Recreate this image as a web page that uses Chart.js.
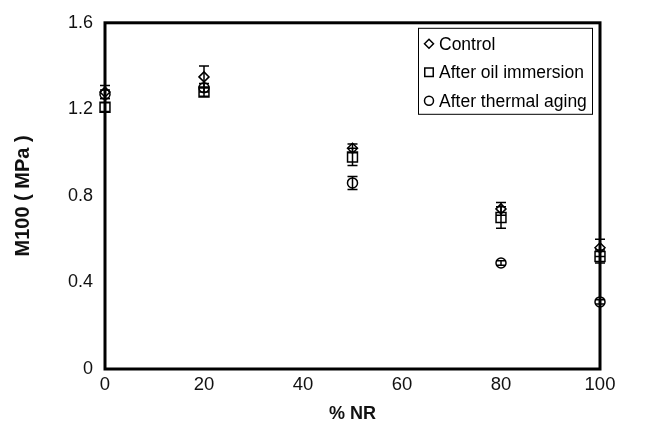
<!DOCTYPE html>
<html>
<head>
<meta charset="utf-8">
<script src="https://cdn.jsdelivr.net/npm/chart.js@4.4.1/dist/chart.umd.min.js"></script>
<style>
  html, body { margin: 0; padding: 0; background: #fff; }
  #wrap { width: 647px; height: 437px; }
</style>
</head>
<body>
<div id="wrap"><canvas id="c" width="647" height="437"></canvas></div>
<script>
// % NR content of each blend
const nrContent = [0, 20, 50, 80, 100];

// M100 modulus (MPa) and standard deviations
const controlM100 = [1.28, 1.35, 1.02, 0.74, 0.56];
const controlErr  = [0.03, 0.05, 0.02, 0.03, 0.04];
const oilM100     = [1.21, 1.28, 0.98, 0.70, 0.52];
const oilErr      = [0.02, 0.02, 0.04, 0.05, 0.03];
const thermalM100 = [1.27, 1.30, 0.86, 0.49, 0.31];
const thermalErr  = [0.02, 0.02, 0.03, 0.01, 0.01];

const xTicks = [0, 20, 40, 60, 80, 100];
const yTicks = [0, 0.4, 0.8, 1.2, 1.6];

const seriesLabels = ['Control', 'After oil immersion', 'After thermal aging'];
const seriesStyles = ['rectRot', 'rect', 'circle'];
const markerRadius = { rectRot: 5, rect: 7, circle: 5 };

const FONT = '"Liberation Sans", Arial, sans-serif';

function points(vals, errs) {
  return nrContent.map((x, i) => ({ x: x, y: vals[i], err: errs[i] }));
}

// Vertical error bars with caps, drawn through the chart's scales
const errorBars = {
  id: 'errorBars',
  afterDatasetsDraw(chart) {
    const { ctx, scales: { x, y } } = chart;
    ctx.save();
    ctx.strokeStyle = '#000';
    ctx.lineWidth = 1.5;
    chart.data.datasets.forEach(ds => {
      ds.data.forEach(p => {
        const px = x.getPixelForValue(p.x);
        const top = y.getPixelForValue(p.y + p.err);
        const bot = y.getPixelForValue(p.y - p.err);
        ctx.beginPath();
        ctx.moveTo(px, top); ctx.lineTo(px, bot);
        ctx.moveTo(px - 5, top); ctx.lineTo(px + 5, top);
        ctx.moveTo(px - 5, bot); ctx.lineTo(px + 5, bot);
        ctx.stroke();
      });
    });
    ctx.restore();
  }
};

// Frame around the plot area
const frame = {
  id: 'frame',
  afterDraw(chart) {
    const { ctx, chartArea: a } = chart;
    ctx.save();
    ctx.strokeStyle = '#000';
    ctx.lineWidth = 3;
    ctx.strokeRect(a.left, a.top, a.right - a.left, a.bottom - a.top);
    ctx.restore();
  }
};

// Boxed legend in the upper right corner of the plot
const boxLegend = {
  id: 'boxLegend',
  afterDraw(chart) {
    const { ctx, chartArea: a } = chart;
    const left = a.right - 182, top = a.top + 5, w = 174, h = 86;
    ctx.save();
    ctx.fillStyle = '#fff';
    ctx.fillRect(left, top, w, h);
    ctx.strokeStyle = '#000';
    ctx.lineWidth = 1;
    ctx.strokeRect(left + 0.5, top + 0.5, w, h);
    ctx.font = '17.5px ' + FONT;
    ctx.textBaseline = 'middle';
    chart.data.datasets.forEach((ds, i) => {
      const cy = top + 16 + i * 28.5;
      ctx.fillStyle = '#fff';
      ctx.strokeStyle = '#000';
      ctx.lineWidth = 1.5;
      Chart.helpers.drawPoint(ctx, {
        pointStyle: ds.pointStyle,
        radius: ds.pointStyle === 'rect' ? 6 : 4.5,
        borderWidth: 1.5
      }, left + 11, cy);
      ctx.fillStyle = '#000';
      ctx.fillText(ds.label, left + 21, cy + 1);
    });
    ctx.restore();
  }
};

const makeSet = (i, vals, errs) => ({
  label: seriesLabels[i],
  data: points(vals, errs),
  pointStyle: seriesStyles[i],
  pointRadius: markerRadius[seriesStyles[i]],
  pointBackgroundColor: 'rgba(255,255,255,0)',
  pointBorderColor: '#000',
  pointBorderWidth: 1.5,
  showLine: false,
  clip: false
});

new Chart(document.getElementById('c'), {
  type: 'scatter',
  data: {
    datasets: [
      makeSet(0, controlM100, controlErr),
      makeSet(1, oilM100, oilErr),
      makeSet(2, thermalM100, thermalErr)
    ]
  },
  options: {
    responsive: false,
    animation: false,
    events: [],
    layout: { padding: { left: 0, top: 19, right: 47, bottom: 0 } },
    plugins: { legend: { display: false }, tooltip: { enabled: false } },
    scales: {
      x: {
        type: 'linear', min: 0, max: 100,
        afterBuildTicks: s => { s.ticks = xTicks.map(v => ({ value: v })); },
        afterFit: s => { s.height = 68; },
        grid: { display: false, drawTicks: false },
        border: { display: false },
        ticks: { color: '#111', padding: 5, font: { family: FONT, size: 18.5 } },
        title: {
          display: true, text: '% NR', color: '#111',
          font: { family: FONT, size: 18, weight: 'bold' }, padding: { top: 0, bottom: 12 }
        }
      },
      y: {
        type: 'linear', min: 0, max: 1.6,
        afterBuildTicks: s => { s.ticks = yTicks.map(v => ({ value: v })); },
        afterFit: s => { s.width = 105; },
        grid: { display: false, drawTicks: false },
        border: { display: false },
        ticks: {
          color: '#111', padding: 12, font: { family: FONT, size: 18 },
          callback: v => (v === 0 ? '0' : v.toFixed(1))
        },
        title: {
          display: true, text: 'M100 ( MPa )', color: '#111',
          font: { family: FONT, size: 20, weight: 'bold' }, padding: { top: 11, bottom: 0 }
        }
      }
    }
  },
  plugins: [errorBars, frame, boxLegend]
});
</script>
</body>
</html>
